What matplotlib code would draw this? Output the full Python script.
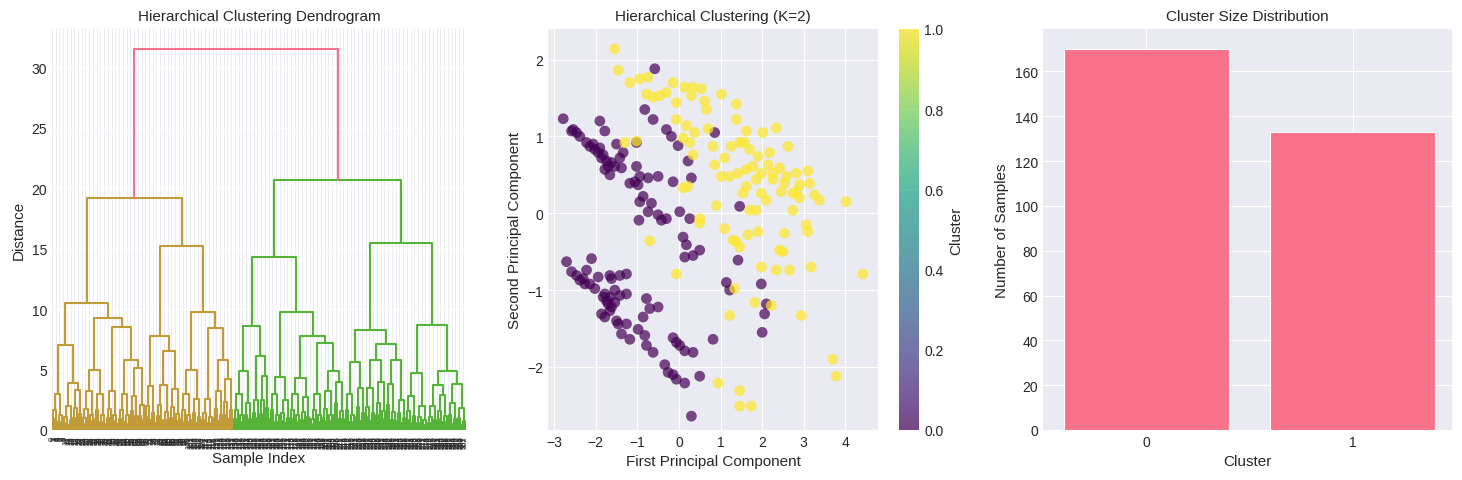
import matplotlib
matplotlib.use("Agg")
import matplotlib.pyplot as plt
import numpy as np

plt.style.use("seaborn-v0_8-darkgrid")

# ---------------- data ----------------
# Dendrogram tree: internal node = (height, left, right); leaf group = [n_leaves, max_height]
orange_tree = (19.2,
    (10.5,
        (7.0, [8, 3.0], (3.9, [7, 2.0], [7, 3.3])),
        (9.3, (5.0, [9, 3.2], [8, 3.0]),
              (8.5, [9, 3.2], (5.8, [9, 3.0], [11, 5.1])))),
    (15.2,
        (7.8, [8, 3.6], (6.5, [10, 3.7], [8, 3.4])),
        (9.8, (5.0, [8, 3.0], [7, 2.6]),
              (8.4, [9, 2.6], (5.8, [7, 3.2], [8, 4.2])))))
green_tree = (20.7,
    (14.3,
        (8.6, (4.9, [7, 3.0], [6, 2.2]), (6.1, [6, 2.5], [7, 4.5])),
        (9.8, (4.4, [8, 3.0], [7, 2.5]),
              (7.8, (4.3, [8, 3.0], [7, 2.7]),
                    (7.2, [9, 3.0], (4.9, [8, 3.2], [8, 4.0]))))),
    (15.5,
        (8.3, (5.6, [8, 3.0], [7, 3.5]),
              (7.1, (5.8, [8, 3.5], [7, 4.0]), (5.8, [8, 3.8], [7, 2.5]))),
        (8.7, (4.7, [8, 2.8], [8, 2.0]),
              (4.9, (3.7, [7, 2.0], [8, 2.9]), (3.8, [6, 2.2], [7, 1.8])))))
root_height = 31.5

pc1_c0 = [-2.78,-2.54,-2.46,-2.58,-2.38,-2.22,-2.14,-2.06,-2.02,-1.94,-1.90,-1.82,-1.86,-1.74,-1.70,-1.62,-1.78,-1.66,-1.90,-1.78,
          -1.50,-1.34,-1.42,-1.54,-1.38,-1.02,-1.02,-0.94,-1.18,-1.06,-0.98,-0.74,-0.50,-0.86,-0.66,-0.94,-0.74,-0.96,-0.50,-0.42,
          -0.30,-0.82,-0.62,-0.30,-0.18,-0.02,0.22,0.30,-0.14,0.02,0.26,0.10,0.18,0.14,0.34,0.50,0.86,1.46,1.42,1.14,
          1.22,1.98,2.10,2.06,2.00,-0.58,0.82,0.30,
          -2.70,-2.10,-2.58,-2.46,-2.30,-2.22,-2.14,-2.02,-1.94,-1.78,-1.74,-1.66,-1.62,-1.86,-1.78,-1.66,-1.54,-1.42,-1.26,-1.62,
          -1.66,-1.42,-1.26,-1.50,-1.46,-1.26,-1.38,-1.18,-0.98,-0.82,-0.78,-0.70,-0.50,-0.86,-0.78,-0.62,-0.14,-0.06,0.02,0.14,
          0.34,-0.34,-0.26,-0.14,-0.06,0.14,0.50,-2.38,-2.26,-1.82,-1.70,-1.54]
pc2_c0 = [1.23,1.09,1.05,1.07,1.00,0.92,0.87,0.90,0.83,0.79,0.85,0.76,0.72,0.68,0.61,0.66,0.57,0.50,1.20,1.07,
          0.90,0.79,0.72,0.61,0.59,0.92,0.61,0.48,0.39,0.41,0.37,0.46,0.48,0.22,0.13,0.15,0.02,-0.09,-0.02,-0.09,
          -0.07,1.35,1.22,1.09,1.00,0.88,0.68,0.46,0.41,0.02,-0.07,-0.31,-0.41,-0.57,-0.55,-0.48,1.05,0.09,-0.61,-0.90,
          -1.00,-0.92,-1.18,-1.31,-1.55,1.88,-1.64,-2.64,
          -0.63,-0.59,-0.76,-0.81,-0.85,-0.74,-0.92,-0.98,-0.83,-1.05,-1.14,-1.09,-1.22,-1.31,-1.35,-1.27,-1.16,-1.07,-1.05,-0.85,
          -0.81,-0.81,-0.79,-1.40,-1.44,-1.44,-1.57,-1.64,-1.51,-1.59,-1.11,-1.24,-1.22,-1.35,-1.72,-1.81,-1.62,-1.68,-1.72,-1.79,
          -1.81,-1.97,-2.07,-2.10,-2.16,-2.21,-2.12,-0.87,-0.92,-1.09,-1.18,-1.00]
pc1_c1 = [-1.54,-1.46,-1.18,-0.94,-0.74,-0.78,-0.62,-0.46,-0.30,-0.14,-0.06,0.14,0.34,0.54,0.30,0.62,0.66,1.02,1.38,1.38,
          -0.06,0.18,0.38,0.10,0.26,0.70,0.82,1.10,0.86,1.26,1.46,1.62,2.02,2.34,2.62,1.70,1.90,1.78,2.14,2.26,
          2.58,2.82,3.10,2.90,2.74,3.14,2.46,1.98,2.10,1.62,1.54,1.70,1.86,1.02,1.22,1.42,1.62,1.98,3.26,3.38,
          4.02,2.74,2.90,0.90,0.50,0.50,1.10,1.30,1.46,1.38,1.66,1.90,2.54,3.06,3.10,2.42,2.50,1.98,2.34,2.66,
          3.18,4.42,-0.06,-0.70,0.34,-1.02,-1.30,0.22,0.10,1.34,1.82,2.22,1.22,2.94,3.70,3.78,0.94,1.46,1.46,1.74,
          1.58,2.18,2.42,1.86,2.26,2.54,2.82]
pc2_c1 = [2.14,1.86,1.70,1.75,1.77,1.55,1.51,1.53,1.57,1.70,1.44,1.64,1.64,1.62,1.53,1.46,1.35,1.55,1.42,1.22,
          1.22,1.14,1.05,0.98,0.92,1.10,0.87,0.72,0.63,0.87,0.92,1.07,1.05,1.11,0.87,0.83,0.74,0.61,0.63,0.52,
          0.48,0.52,0.55,0.37,0.26,0.39,0.28,0.26,0.17,0.35,0.26,0.04,0.04,0.48,0.48,0.52,0.57,0.52,0.24,0.17,
          0.15,0.04,0.20,0.10,-0.07,-0.13,-0.20,-0.35,-0.44,-0.37,-0.28,-0.24,-0.26,-0.15,-0.24,-0.48,-0.50,-0.70,-0.74,-0.74,
          -0.70,-0.79,-0.79,-0.36,0.76,0.94,0.92,0.35,0.33,-0.98,-1.16,-1.20,-1.33,-1.33,-1.90,-2.12,-2.21,-2.31,-2.51,-2.51,
          0.92,0.79,0.59,0.44,0.44,0.39,0.28]

cluster_labels = ["0", "1"]
cluster_sizes = [170, 133]

# ---------------- figure ----------------
fig = plt.figure(figsize=(14.62, 4.81), dpi=100)
ax1 = fig.add_axes([0.0356, 0.104, 0.283, 0.834])
ax2 = fig.add_axes([0.375, 0.104, 0.2257, 0.834])
cax = fig.add_axes([0.615, 0.104, 0.0137, 0.834])
ax3 = fig.add_axes([0.7134, 0.104, 0.2797, 0.834])

ORANGE = "#c09b38"
GREEN = "#55b437"
PINK = "#f77189"
lw = 1.5
counter = [0]

def draw_group(n, h, color):
    if n == 1:
        x = 5 + 10 * counter[0]
        counter[0] += 1
        return x, 0.0
    a = (n + 1) // 2
    xl, hl = draw_group(a, h * 0.55, color)
    xr, hr = draw_group(n - a, h * 0.4, color)
    ax1.plot([xl, xl, xr, xr], [hl, h, h, hr], color=color, lw=lw)
    return (xl + xr) / 2, h

def draw(node, color):
    if isinstance(node, list):
        return draw_group(node[0], node[1], color)
    h, l, r = node
    xl, hl = draw(l, color)
    xr, hr = draw(r, color)
    ax1.plot([xl, xl, xr, xr], [hl, h, h, hr], color=color, lw=lw)
    return (xl + xr) / 2, h

xo, ho = draw(orange_tree, ORANGE)
xg, hg = draw(green_tree, GREEN)
ax1.plot([xo, xo, xg, xg], [ho, root_height, root_height, hg], color=PINK, lw=lw)
N = counter[0]
ax1.set_xlim(0, 10 * N)
ax1.set_ylim(0, 33.2)
ax1.set_xticks(5 + 10 * np.arange(N))
ax1.set_xticklabels([str(i) for i in range(N)], rotation=90, fontsize=5.5)
ax1.tick_params(axis="x", pad=4)
ax1.set_yticks([0, 5, 10, 15, 20, 25, 30])
ax1.set_title("Hierarchical Clustering Dendrogram", fontsize=11)
ax1.set_xlabel("Sample Index", fontsize=11, labelpad=2)
ax1.set_ylabel("Distance", fontsize=11)

x_all = pc1_c0 + pc1_c1
y_all = pc2_c0 + pc2_c1
c_all = [0] * len(pc1_c0) + [1] * len(pc1_c1)
sc = ax2.scatter(x_all, y_all, c=c_all, cmap="viridis", alpha=0.7, s=60, linewidths=0)
ax2.set_xlim(-3.14, 4.79)
ax2.set_ylim(-2.82, 2.4)
ax2.set_xticks([-3, -2, -1, 0, 1, 2, 3, 4])
ax2.set_title("Hierarchical Clustering (K=2)", fontsize=11)
ax2.set_xlabel("First Principal Component", fontsize=11)
ax2.set_ylabel("Second Principal Component", fontsize=11)
cb = fig.colorbar(sc, cax=cax)
cb.set_label("Cluster", fontsize=11)
cb.outline.set_visible(False)

ax3.bar(cluster_labels, cluster_sizes, color=PINK, width=0.8, edgecolor="white", linewidth=0.8)
ax3.set_xlim(-0.5, 1.48)
ax3.set_ylim(0, 179)
ax3.set_yticks(range(0, 161, 20))
ax3.set_title("Cluster Size Distribution", fontsize=11)
ax3.set_xlabel("Cluster", fontsize=11)
ax3.set_ylabel("Number of Samples", fontsize=11)

fig.savefig("out.png", dpi=100)
